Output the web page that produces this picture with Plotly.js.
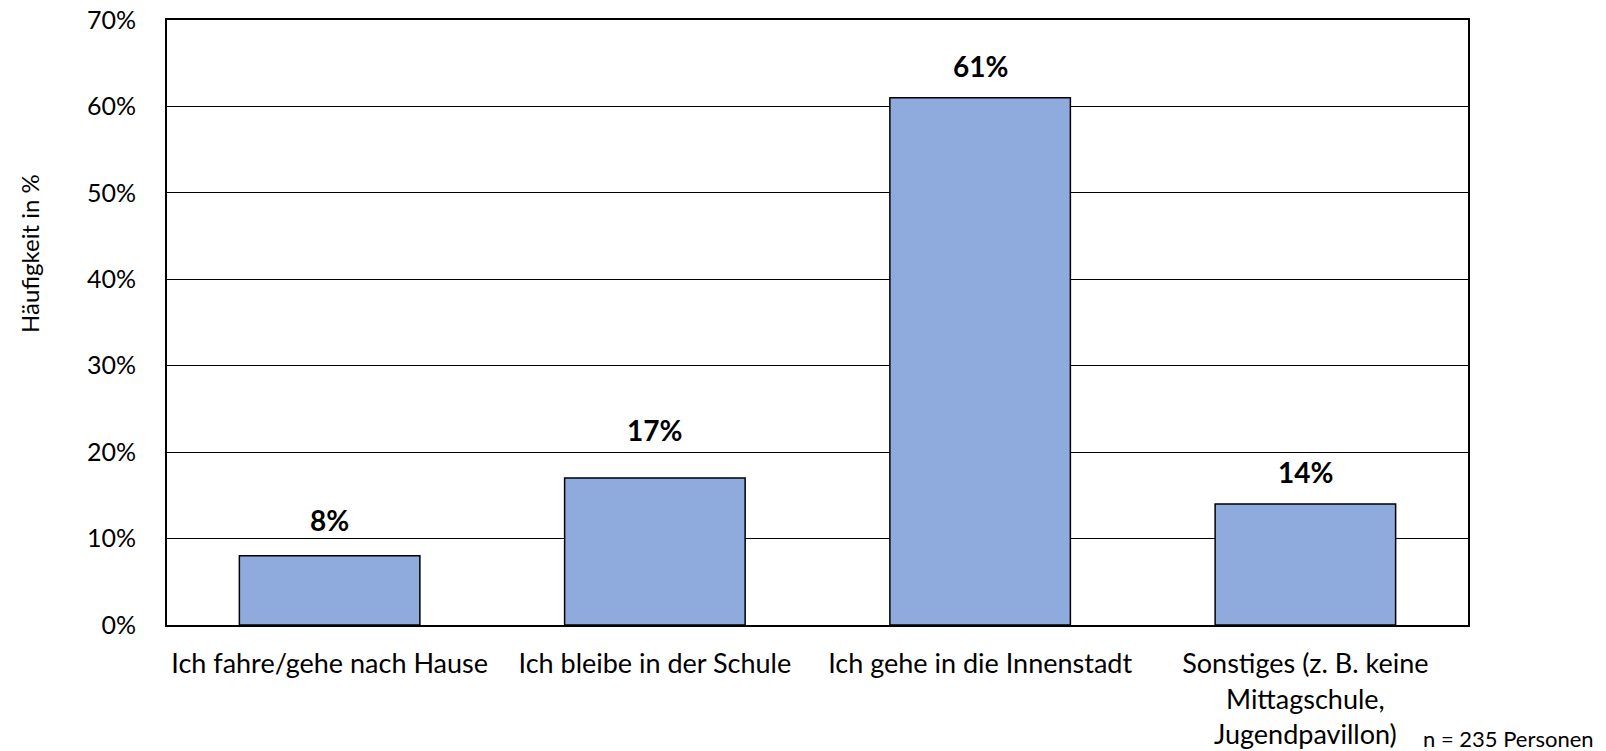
<!DOCTYPE html>
<html>
<head>
<meta charset="utf-8">
<script src="https://cdn.plot.ly/plotly-3.0.1.min.js"></script>
<style>html,body{margin:0;padding:0;background:#fff;}#chart{width:1606px;height:751px;}</style>
</head>
<body>
<div id="chart"></div>
<script>
const categories = [
  "Ich fahre/gehe nach Hause",
  "Ich bleibe in der Schule",
  "Ich gehe in die Innenstadt",
  "Sonstiges (z. B. keine<br>Mittagschule,<br>Jugendpavillon)"
];
const values = [8, 17, 61, 14];
const valueLabels = ["8%", "17%", "61%", "14%"];
const yTickVals = [0, 10, 20, 30, 40, 50, 60, 70];
const yTickText = ["0%", "10%", "20%", "30%", "40%", "50%", "60%", "70%"];
const yTitle = "Häufigkeit in %";
const footnote = "n = 235 Personen";

const FONT = "Lato, 'Open Sans', sans-serif";
// pixel offsets of the data labels above the bars (as placed in the reference)
const labelShiftPx = [17, 29, 13, 13];

const trace = {
  type: "bar",
  x: categories,
  y: values,
  width: 0.555,
  marker: { color: "#8FAADC", line: { color: "#000", width: 1.5 } },
  hoverinfo: "none"
};

const annotations = categories.map((c, i) => ({
  x: c, y: values[i], xref: "x", yref: "y",
  text: "<b>" + valueLabels[i] + "</b>",
  showarrow: false, yanchor: "bottom", yshift: labelShiftPx[i],
  font: { family: FONT, size: 28, color: "#000" }
}));
annotations.push({
  xref: "paper", yref: "paper", x: 1.0 + (1596 - 1468) / 1301, y: -(738 - 625) / 605,
  xanchor: "right", yanchor: "middle", showarrow: false,
  text: footnote, font: { family: FONT, size: 22, color: "#000" }
});
annotations.push({
  xref: "paper", yref: "paper", x: (29 - 167) / 1301, y: (625 - 254) / 605,
  xanchor: "center", yanchor: "middle", showarrow: false, textangle: -90,
  text: yTitle, font: { family: FONT, size: 24, color: "#000" }
});

const layout = {
  width: 1606, height: 751,
  margin: { l: 167, r: 138, t: 20, b: 126, pad: 0 },
  paper_bgcolor: "#fff", plot_bgcolor: "#fff",
  showlegend: false,
  font: { family: FONT, color: "#000" },
  xaxis: {
    type: "category",
    showgrid: false, zeroline: false,
    showline: true, linecolor: "#000", linewidth: 2, mirror: true,
    ticks: "", tickfont: { family: FONT, size: 27, color: "#000" },
    ticklabelstandoff: 14
  },
  yaxis: {
    range: [0, 70],
    tickvals: yTickVals, ticktext: yTickText,
    showgrid: true, gridcolor: "#000", gridwidth: 1,
    zeroline: false,
    showline: true, linecolor: "#000", linewidth: 2, mirror: true,
    ticks: "", tickfont: { family: FONT, size: 25, color: "#000" },
    ticklabelstandoff: 24
  },
  annotations: annotations,
  bargap: 0.445
};

Plotly.newPlot("chart", [trace], layout, { displayModeBar: false, staticPlot: true });
</script>
</body>
</html>
